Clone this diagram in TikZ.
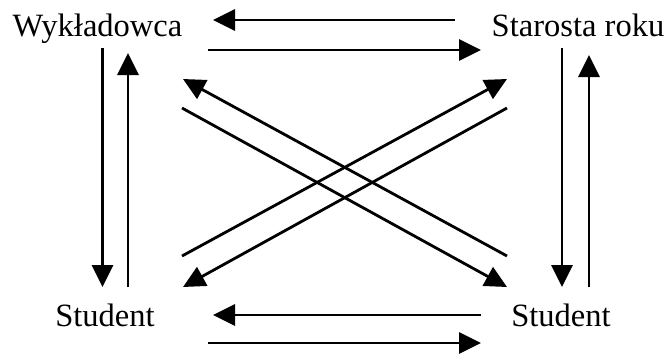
\documentclass[tikz,border=0pt]{standalone}
\usepackage{fontspec}
\setmainfont{Liberation Serif}
\usetikzlibrary{arrows.meta}
\begin{document}
\begin{tikzpicture}[x=0.75pt,y=-0.75pt,
  lbl/.style={inner sep=0pt,anchor=base,font=\fontsize{24.4}{28}\selectfont},
  conn/.style={line width=2.1pt,-{Triangle[length=16.5pt,width=15.8pt]}}]
\useasboundingbox (0,0) rectangle (667,355);
% labels
\node[lbl] (W) at (97.5,36) {Wykładowca};
\node[lbl] (S) at (578,36) {Starosta roku};
\node[lbl] (L) at (105,326) {Student};
\node[lbl] (R) at (561,326) {Student};
% endpoints
\coordinate (t1a) at (455,20);  \coordinate (t1b) at (213,20);
\coordinate (t2a) at (208,50);  \coordinate (t2b) at (481,50);
\coordinate (b1a) at (481,315); \coordinate (b1b) at (213,315);
\coordinate (b2a) at (208,343); \coordinate (b2b) at (481,343);
\coordinate (l1a) at (102.5,48); \coordinate (l1b) at (102.5,287);
\coordinate (l2a) at (128,287); \coordinate (l2b) at (128,53);
\coordinate (r1a) at (562,48);  \coordinate (r1b) at (562,287);
\coordinate (r2a) at (589,287); \coordinate (r2b) at (589,55);
\coordinate (d1a) at (507,256); \coordinate (d1b) at (183,79);
\coordinate (d2a) at (182,108); \coordinate (d2b) at (507,287);
\coordinate (d3a) at (182,256); \coordinate (d3b) at (507,79);
\coordinate (d4a) at (507,108); \coordinate (d4b) at (183,287);
% connectors
\foreach \p in {t1,t2,b1,b2,l1,l2,r1,r2,d1,d2,d3,d4}
  \draw[conn] (\p a) -- (\p b);
\end{tikzpicture}
\end{document}
